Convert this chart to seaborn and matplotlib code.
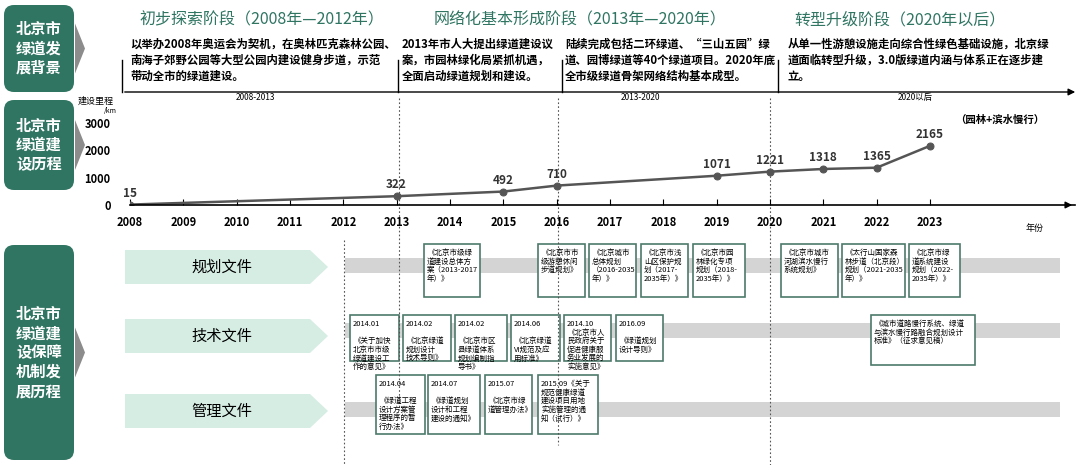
import matplotlib
matplotlib.use("Agg")
import matplotlib.pyplot as plt
import pandas as pd
import seaborn as sns
from matplotlib.patches import FancyBboxPatch, Rectangle, Polygon

plt.rcParams["font.family"] = ["Noto Sans CJK SC", "DejaVu Sans"]

# ---- data ----
years = [2008, 2013, 2015, 2016, 2019, 2020, 2021, 2022, 2023]
lengths = [15, 322, 492, 710, 1071, 1221, 1318, 1365, 2165]
year_ticks = list(range(2008, 2024))
y_ticks = [0, 1000, 2000, 3000]

stage_titles = ["初步探索阶段（2008年—2012年）", "网络化基本形成阶段（2013年—2020年）", "转型升级阶段（2020年以后）"]
stage_texts = [
    "以举办2008年奥运会为契机，在奥林匹克森林公园、\n南海子郊野公园等大型公园内建设健身步道，示范\n带动全市的绿道建设。",
    "2013年市人大提出绿道建设议\n案，市园林绿化局紧抓机遇，\n全面启动绿道规划和建设。",
    "陆续完成包括二环绿道、“三山五园”绿\n道、园博绿道等40个绿道项目。2020年底\n全市级绿道骨架网络结构基本成型。",
    "从单一性游憩设施走向综合性绿色基础设施，北京绿\n道面临转型升级，3.0版绿道内涵与体系正在逐步建\n立。",
]
period_labels = ["2008-2013", "2013-2020", "2020以后"]
row_names = ["规划文件", "技术文件", "管理文件"]
side_labels = ["北京市\n绿道发\n展背景", "北京市\n绿道建\n设历程", "北京市\n绿道建\n设保障\n机制发\n展历程"]

plan_docs = ["《北京市级绿\n道建设总体方\n案（2013-2017\n年）》", "《北京市市\n级游憩休闲\n步道规划》",
             "《北京城市\n总体规划\n（2016-2035\n年）》", "《北京市浅\n山区保护规\n划（2017-\n2035年）》",
             "《北京市园\n林绿化专项\n规划（2018-\n2035年）》", "《北京市城市\n河湖滨水慢行\n系统规划》",
             "《太行山国家森\n林步道（北京段）\n规划（2021-2035\n年）》", "《北京市绿\n道系统建设\n规划（2022-\n2035年）》"]
tech_docs = ["2014.01\n\n《关于加快\n北京市市级\n绿道建设工\n作的意见》", "2014.02\n\n《北京绿道\n规划设计\n技术导则》",
             "2014.02\n\n《北京市区\n县绿道体系\n规划编制指\n导书》", "2014.06\n\n《北京绿道\nVI规范及应\n用标准》",
             "2014.10\n《北京市人\n民政府关于\n促进健康服\n务业发展的\n实施意见》", "2016.09\n\n《绿道规划\n设计导则》",
             "《城市道路慢行系统、绿道\n与滨水慢行路融合规划设计\n标准》（征求意见稿）"]
mgmt_docs = ["2014.04\n\n《绿道工程\n设计方案管\n理程序的暂\n行办法》", "2014.07\n\n《绿道规划\n设计和工程\n建设的通知》",
             "2015.07\n\n《北京市绿\n道管理办法》", "2015.09《关于\n规范健康绿道\n建设项目用地\n实施管理的通\n知（试行）》"]

green = "#2f7562"
grey_band = "#d4d4d4"
box_edge = "#4d7a6c"

fig = plt.figure(figsize=(10.8, 4.65), dpi=100)
ov = fig.add_axes([0, 0, 1, 1])
ov.set_xlim(0, 1080)
ov.set_ylim(465, 0)
ov.axis("off")

# side labels with chevrons
for lab, (y0, y1) in zip(side_labels, [(5, 92), (100, 190), (245, 460)]):
    ov.add_patch(FancyBboxPatch((4, y0), 70, y1 - y0, boxstyle="round,pad=0,rounding_size=10",
                                fc=green, ec="none"))
    ym = (y0 + y1) / 2
    ov.add_patch(Polygon([(75, ym - 25), (85, ym), (75, ym + 25)], fc="#8c8c8c", ec="none"))
    ov.text(39, ym, lab, color="white", fontsize=11, fontweight="bold", ha="center", va="center", linespacing=1.25)

# stage titles & texts
for t, x in zip(stage_titles, [262, 580, 900]):
    ov.text(x, 20, t, color=green, fontsize=11.5, fontweight="medium", ha="center", va="center")
for t, x in zip(stage_texts, [130, 402, 565, 788]):
    ov.text(x, 38, t, fontsize=8.2, fontweight="bold", ha="left", va="top", linespacing=1.3)

# top timeline
ov.annotate("", xy=(1078, 92), xytext=(122, 92), arrowprops=dict(arrowstyle="-|>", color="black", lw=1))
ov.plot([122, 122], [60, 92], color="black", lw=1)
for x in [398, 562, 778]:
    ov.plot([x, x], [60, 92], color="black", lw=1)
for t, x in zip(period_labels, [255, 640, 915]):
    ov.text(x, 97, t, fontsize=6, ha="center", va="center")

# dashed guides
for x, y0, y1 in [(344, 240, 465), (399, 98, 410), (558, 98, 445), (770, 98, 465)]:
    ov.plot([x, x], [y0, y1], color="#555555", lw=0.8, ls=(0, (1.5, 2)))

# rows
for name, (yb0, yb1), yc in zip(row_names, [(258, 273), (323, 338), (402, 417)], [267, 336, 411]):
    ov.add_patch(Rectangle((345, yb0), 715, yb1 - yb0, fc=grey_band, ec="none"))
    ov.add_patch(Polygon([(125, yc - 17), (310, yc - 17), (328, yc), (310, yc + 17), (125, yc + 17)],
                         fc="#d6ede4", ec="none"))
    ov.text(222, yc, name, fontsize=11, ha="center", va="center")


def draw_boxes(docs, spans, y0, y1, fs=5.4):
    for d, (x0, x1) in zip(docs, spans):
        ov.add_patch(Rectangle((x0, y0), x1 - x0, y1 - y0, fc="white", ec=box_edge, lw=1.2))
        ov.text(x0 + 3, y0 + 5, d, fontsize=fs, ha="left", va="top", linespacing=1.1)


draw_boxes(plan_docs, [(424, 480), (538, 585), (589, 636), (641, 688), (693, 745), (781, 838), (842, 905), (909, 960)], 244, 297)
draw_boxes(tech_docs[:6], [(350, 399), (403, 451), (455, 507), (511, 560), (564, 611), (616, 663)], 315, 361)
draw_boxes(tech_docs[6:], [(871, 975)], 315, 365)
draw_boxes(mgmt_docs, [(376, 425), (428, 480), (485, 532), (538, 598)], 375, 434)

# ---- line chart ----
W, H = 1080, 465
px_per_year = 800 / 15
x_max = 2008 + (1075 - 130) / px_per_year
y_max = (205 - 118) / 27.33 * 1000
ax = fig.add_axes([130 / W, (H - 205) / H, (1075 - 130) / W, (205 - 118) / H])
ax.patch.set_alpha(0)
df = pd.DataFrame({"year": years, "length": lengths})
sns.lineplot(data=df, x="year", y="length", ax=ax, color="#555555", lw=1.8,
             marker="o", markersize=5, markerfacecolor="#555555", markeredgecolor="#555555")
ax.set_xlim(2008, x_max)
ax.set_ylim(0, y_max)
ax.set_xticks(year_ticks)
ax.set_xticklabels([str(y) for y in year_ticks], fontsize=8, fontweight="bold")
ax.set_yticks(y_ticks)
ax.set_yticklabels([str(v) for v in y_ticks], fontsize=8, fontweight="bold")
ax.tick_params(axis="x", direction="in", length=4, pad=8)
ax.tick_params(axis="y", length=0, pad=14)
ax.set_xlabel("")
ax.set_ylabel("")
for s in ["top", "right", "left"]:
    ax.spines[s].set_visible(False)
ax.spines["bottom"].set_linewidth(1.2)
ax.annotate("", xy=(1.0, 0), xytext=(0.99, 0), xycoords="axes fraction",
            arrowprops=dict(arrowstyle="-|>", color="black", lw=1))
for x, v in zip(years, lengths):
    ax.text(x, v + 180, str(v), fontsize=8.5, fontweight="bold", ha="center", va="bottom", color="#333333")

ov.text(78, 101, "建设里程", fontsize=6.5, ha="left", va="center")
ov.text(104, 111, "/km", fontsize=5, ha="left", va="center")
ov.text(1035, 228, "年份", fontsize=6.5, ha="center", va="center")
ov.text(955, 120, "（园林+滨水慢行）", fontsize=7.5, fontweight="bold", ha="left", va="center")

fig.savefig("out.png", dpi=100)
